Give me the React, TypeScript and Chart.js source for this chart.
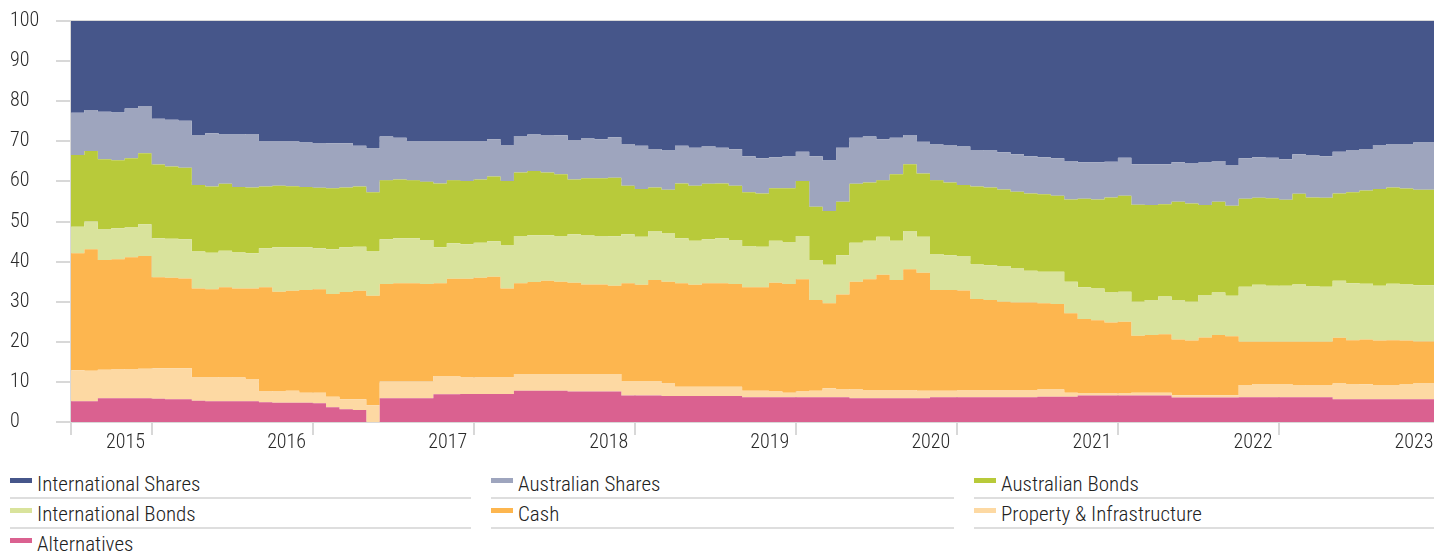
import React, { useEffect, useRef } from 'react';
import { Chart, registerables } from 'chart.js';

Chart.register(...registerables);

// Monthly allocation (%) — month index 0 = first month shown
const intlShares = [
  23.4, 22.9, 22.2, 22.6, 22.8, 21.8, 21.2, 24.4, 24.6, 24.9,
  28.4, 28.0, 28.3, 28.3, 28.2, 29.9, 29.9, 29.9, 30.3, 30.4,
  30.5, 30.5, 31.1, 31.8, 28.8, 29.1, 29.9, 29.9, 29.9, 29.9,
  29.9, 29.9, 29.5, 30.9, 28.7, 28.3, 28.4, 28.5, 29.7, 29.3,
  29.5, 29.0, 30.7, 31.1, 31.9, 32.3, 31.1, 31.6, 31.2, 31.6,
  32.0, 33.7, 34.2, 34.0, 33.8, 32.6, 33.7, 34.8, 31.6, 29.1,
  28.8, 29.5, 29.1, 28.4, 30.1, 30.8, 30.9, 31.3, 32.2, 32.3,
  32.7, 33.2, 33.7, 34.0, 34.2, 34.9, 35.2, 35.2, 35.1, 34.1,
  35.7, 35.7, 35.7, 35.2, 35.4, 35.3, 34.9, 35.9, 34.2, 34.0,
  34.1, 34.5, 33.2, 33.4, 33.7, 32.6, 32.2, 31.9, 30.9, 30.7,
  30.7, 30.3,
];
const ausShares = [
  11.3, 10.5, 10.2, 11.9, 11.9, 12.4, 11.8, 11.4, 11.7, 11.7,
  12.5, 13.3, 12.3, 13.1, 13.3, 11.4, 11.2, 11.3, 11.1, 11.2,
  11.2, 11.0, 10.2, 10.9, 10.9, 10.4, 9.8, 10.2, 10.6, 9.8,
  10.0, 9.6, 9.3, 9.0, 9.1, 9.1, 9.4, 9.7, 9.8, 9.9,
  9.7, 10.1, 10.4, 10.8, 9.6, 9.8, 9.4, 9.5, 9.4, 8.9,
  9.1, 9.0, 8.8, 7.7, 7.9, 7.3, 12.6, 12.6, 13.5, 11.5,
  11.5, 10.2, 9.1, 7.3, 7.9, 8.9, 9.4, 9.6, 9.1, 9.2,
  9.3, 9.4, 9.3, 9.2, 9.4, 9.6, 9.1, 9.3, 8.9, 9.5,
  10.1, 10.2, 10.0, 9.9, 10.1, 10.6, 10.2, 10.2, 10.1, 10.1,
  10.1, 10.1, 9.9, 10.6, 10.4, 10.4, 10.5, 10.4, 11.0, 10.8,
  11.1, 11.8,
];
const ausBonds = [
  17.4, 17.9, 17.6, 17.5, 17.0, 17.3, 17.7, 18.4, 18.0, 17.8,
  16.6, 16.5, 16.7, 16.3, 16.4, 15.4, 15.3, 15.2, 15.0, 15.1,
  15.2, 14.9, 15.0, 14.8, 14.7, 14.7, 14.5, 14.5, 15.9, 15.7,
  15.8, 15.8, 16.1, 16.1, 15.8, 16.0, 15.6, 15.4, 13.7, 14.3,
  14.4, 14.6, 12.1, 11.9, 10.9, 10.9, 13.7, 13.7, 13.8, 13.7,
  13.5, 13.4, 13.3, 13.1, 13.4, 13.7, 13.3, 13.4, 13.3, 14.7,
  14.5, 14.1, 16.6, 16.7, 15.8, 18.4, 18.1, 17.7, 19.4, 19.4,
  19.1, 19.1, 19.3, 19.3, 18.9, 20.5, 22.1, 22.2, 23.7, 23.9,
  24.2, 23.7, 23.0, 24.5, 24.5, 22.4, 22.6, 22.4, 22.0, 21.7,
  21.8, 21.4, 22.6, 22.1, 22.2, 21.8, 22.7, 23.2, 24.1, 24.0,
  23.9, 23.8,
];
const intlBonds = [
  6.5, 6.6, 6.9, 7.6, 7.7, 7.4, 7.9, 9.7, 9.7, 9.8,
  9.2, 9.1, 9.1, 9.0, 8.8, 9.7, 11.1, 10.9, 10.7, 10.2,
  11.2, 11.2, 11.0, 11.0, 11.2, 11.2, 11.2, 11.0, 9.0, 8.9,
  8.6, 8.7, 8.9, 10.7, 11.8, 11.7, 11.4, 11.4, 12.1, 12.2,
  12.1, 12.3, 12.2, 12.0, 12.2, 12.0, 11.2, 11.0, 11.0, 11.2,
  11.0, 10.3, 10.1, 10.5, 10.5, 10.8, 10.0, 9.6, 9.8, 9.7,
  9.6, 9.5, 9.8, 9.5, 9.0, 9.0, 8.7, 8.6, 8.6, 8.7,
  8.9, 8.5, 7.9, 7.9, 8.1, 7.9, 7.9, 7.9, 7.5, 7.5,
  8.5, 8.7, 9.4, 9.8, 9.7, 10.6, 10.6, 10.1, 13.7, 14.2,
  14.0, 14.0, 14.3, 13.9, 13.7, 14.2, 14.2, 13.9, 13.7, 14.1,
  14.0, 14.0,
];
const cash = [
  28.4, 29.2, 30.3, 27.4, 27.5, 27.9, 28.1, 22.7, 22.6, 22.4,
  22.2, 22.0, 22.4, 22.2, 22.6, 26.0, 24.8, 24.9, 25.6, 25.8,
  25.6, 26.7, 27.0, 27.3, 24.3, 24.5, 24.5, 24.3, 23.1, 24.2,
  24.6, 24.9, 25.1, 22.2, 22.6, 22.9, 23.2, 23.0, 22.7, 22.3,
  22.3, 22.0, 24.4, 24.0, 25.2, 25.4, 25.8, 25.4, 25.8, 25.8,
  25.6, 25.8, 25.8, 27.1, 27.1, 28.0, 22.6, 21.2, 23.6, 26.9,
  27.6, 28.7, 27.4, 30.1, 29.4, 25.1, 25.1, 24.8, 22.7, 22.4,
  22.0, 21.8, 21.8, 21.5, 21.3, 19.8, 18.6, 18.3, 17.7, 17.9,
  14.2, 14.4, 14.6, 13.9, 13.6, 14.4, 15.0, 14.7, 10.8, 10.5,
  10.5, 10.5, 10.8, 10.9, 10.9, 11.4, 10.9, 11.2, 11.1, 11.2,
  10.8, 10.5,
];
const property = [
  7.9, 7.7, 7.6, 7.1, 7.2, 7.3, 7.4, 7.6, 7.7, 7.7,
  5.8, 5.9, 6.0, 5.9, 5.5, 2.7, 2.9, 3.0, 2.5, 2.6,
  2.6, 2.5, 2.7, 4.2, 4.2, 4.2, 4.2, 4.2, 4.6, 4.6,
  4.1, 4.1, 4.1, 4.1, 4.2, 4.2, 4.2, 4.2, 4.4, 4.4,
  4.4, 4.4, 3.6, 3.6, 3.6, 3.1, 2.3, 2.3, 2.3, 2.3,
  2.3, 1.6, 1.6, 1.4, 1.1, 1.4, 1.6, 2.2, 2.0, 2.2,
  2.1, 2.1, 2.1, 2.1, 1.9, 1.6, 1.6, 1.8, 1.8, 1.8,
  1.8, 1.8, 1.8, 1.8, 1.8, 1.0, 0.5, 0.5, 0.5, 0.5,
  0.7, 0.7, 0.7, 0.6, 0.6, 0.6, 0.6, 0.6, 3.0, 3.3,
  3.3, 3.3, 3.0, 2.9, 2.9, 3.9, 3.8, 3.7, 3.5, 3.5,
  3.8, 3.9,
];
const alternatives = [
  5.1, 5.2, 5.2, 5.9, 5.9, 5.9, 5.9, 5.8, 5.7, 5.7,
  5.3, 5.2, 5.2, 5.2, 5.2, 4.9, 4.8, 4.8, 4.8, 4.7,
  3.7, 3.2, 3.0, 0.0, 5.9, 5.9, 5.9, 5.9, 6.9, 6.9,
  7.0, 7.0, 7.0, 7.0, 7.8, 7.8, 7.8, 7.8, 7.6, 7.6,
  7.6, 7.6, 6.6, 6.6, 6.6, 6.5, 6.5, 6.5, 6.5, 6.5,
  6.5, 6.2, 6.2, 6.2, 6.2, 6.2, 6.2, 6.2, 6.2, 5.9,
  5.9, 5.9, 5.9, 5.9, 5.9, 6.2, 6.2, 6.2, 6.2, 6.2,
  6.2, 6.2, 6.2, 6.3, 6.3, 6.3, 6.6, 6.6, 6.6, 6.6,
  6.6, 6.6, 6.6, 6.1, 6.1, 6.1, 6.1, 6.1, 6.2, 6.2,
  6.2, 6.2, 6.2, 6.2, 6.2, 5.7, 5.7, 5.7, 5.7, 5.7,
  5.7, 5.7,
];

// x axis: year boundaries (month index) and labels
const yearTickMonths = [0, 6, 18, 30, 42, 54, 66, 78, 90, 102];
const yearTickLabels = ['', '2015', '2016', '2017', '2018', '2019', '2020', '2021', '2022', '2023'];
const visibleMonths = 101.55;

const seriesNames = [
  'International Shares',
  'Australian Shares',
  'Australian Bonds',
  'International Bonds',
  'Cash',
  'Property & Infrastructure',
  'Alternatives',
];
const seriesValues = [intlShares, ausShares, ausBonds, intlBonds, cash, property, alternatives];
const seriesColors = ['#46568a', '#9ea5be', '#b8ca3a', '#d9e39c', '#fdb64f', '#fdd9a3', '#da6190'];

const FONT = "'Roboto Condensed', 'Open Sans', sans-serif";
const GRID = '#d8d8d8';

function toSteps(vals: number[]) {
  const pts = vals.map((v, i) => ({ x: i, y: v }));
  pts.push({ x: vals.length, y: vals[vals.length - 1] });
  return pts;
}

export default function App() {
  const ref = useRef<HTMLCanvasElement | null>(null);

  useEffect(() => {
    if (!ref.current) return;
    // bottom of stack first
    const order = [6, 5, 4, 3, 2, 1, 0];
    const datasets = order.map((idx, k) => ({
      label: seriesNames[idx],
      data: toSteps(seriesValues[idx]),
      backgroundColor: seriesColors[idx],
      borderColor: 'rgba(0,0,0,0)',
      borderWidth: 0,
      pointRadius: 0,
      pointHoverRadius: 0,
      stepped: 'after' as const,
      fill: k === 0 ? 'origin' : '-1',
    }));

    const chart = new Chart(ref.current, {
      type: 'line',
      data: { datasets },
      options: {
        animation: false,
        responsive: false,
        events: [],
        layout: { padding: { left: 10, top: 21, right: 0, bottom: 0 } },
        plugins: { legend: { display: false }, tooltip: { enabled: false } },
        scales: {
          x: {
            type: 'linear',
            min: 0,
            max: visibleMonths,
            z: 1,
            afterBuildTicks: (s: any) => {
              s.ticks = yearTickMonths.map((v) => ({ value: v }));
            },
            afterFit: (s: any) => {
              s.paddingLeft = 0;
              s.paddingRight = 0;
              s.height = 40;
            },
            grid: { color: GRID, lineWidth: 2, tickLength: 13, drawTicks: true },
            border: { display: false },
            ticks: {
              autoSkip: false,
              maxRotation: 0,
              minRotation: 0,
              labelOffset: -26,
              padding: -4,
              color: '#2a2a2a',
              font: { family: FONT, size: 20, weight: 300 },
              callback: (_v: any, i: number) => yearTickLabels[i],
            },
          },
          y: {
            stacked: true,
            min: 0,
            max: 100,
            z: 1,
            afterFit: (s: any) => {
              s.width = 61;
            },
            grid: { color: GRID, lineWidth: 2, tickLength: 15, drawTicks: true },
            border: { display: false },
            ticks: {
              stepSize: 10,
              crossAlign: 'far',
              color: '#2a2a2a',
              font: { family: FONT, size: 20, weight: 300 },
            },
          },
        },
      },
    } as any);
    return () => chart.destroy();
  }, []);

  const colStarts = [0, 481, 964];
  const colWidths = [461, 463, 460];

  return (
    <div style={{ position: 'absolute', left: 0, top: 0, width: 1434, height: 553, overflow: 'hidden', background: '#fff' }}>
      <canvas ref={ref} width={1434} height={462} style={{ position: 'absolute', left: 0, top: 0, width: 1434, height: 462 }} />
      <div style={{ position: 'absolute', left: 10, top: 469, width: 1424, height: 90 }}>
        {seriesNames.map((name, i) => {
          const col = i % 3;
          const row = Math.floor(i / 3);
          return (
            <div
              key={name}
              style={{
                position: 'absolute',
                left: colStarts[col],
                top: row * 30,
                width: colWidths[col],
                height: 30,
                boxSizing: 'border-box',
                borderBottom: `2px solid #dedede`,
              }}
            >
              <div style={{ position: 'absolute', left: 0, top: 9, width: 22, height: 5, background: seriesColors[i] }} />
              <div
                style={{
                  position: 'absolute',
                  left: 27,
                  top: 3,
                  fontFamily: FONT,
                  fontSize: 21,
                  fontWeight: 300,
                  lineHeight: '24px',
                  color: '#222',
                  whiteSpace: 'nowrap',
                }}
              >
                {name}
              </div>
            </div>
          );
        })}
      </div>
    </div>
  );
}
